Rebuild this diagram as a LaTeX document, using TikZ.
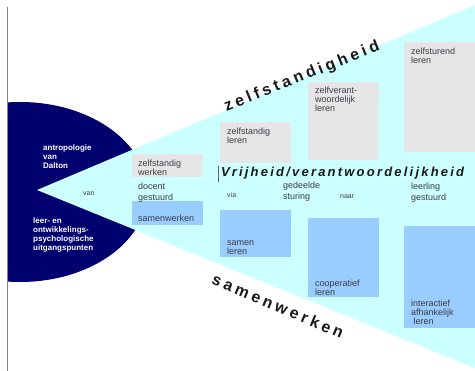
\documentclass[tikz,border=0pt]{standalone}
\usepackage{fontspec}
\setmainfont{Liberation Sans}
\newfontfamily\widefont[LetterSpace=22]{Liberation Sans}
\newfontfamily\vrfont[LetterSpace=17]{Liberation Sans}
\definecolor{navyc}{RGB}{0,0,110}
\definecolor{cyanc}{RGB}{204,255,255}
\definecolor{grayboxc}{RGB}{230,230,230}
\definecolor{blueboxc}{RGB}{153,204,255}
\definecolor{txtc}{RGB}{60,60,70}
\newcommand{\strutA}{\rule{0pt}{7pt}}
\newcommand{\strutB}{\rule{0pt}{6pt}}
\tikzset{
  bt/.style={anchor=north west, inner sep=0pt, align=left, text=txtc, font=\fontsize{9}{9.4}\selectfont},
  lt/.style={anchor=north west, inner sep=0pt, align=left, text=txtc, font=\fontsize{9}{11}\selectfont},
  st/.style={anchor=base west, inner sep=0pt, text=txtc, font=\fontsize{7}{8}\selectfont},
  pt/.style={anchor=north west, inner sep=0pt, align=left, text=white, font=\fontsize{8}{9}\selectfont\bfseries},
  gbox/.style={fill=grayboxc},
  bbox/.style={fill=blueboxc},
  bigword/.style={inner sep=0pt, text=black!90, font=\widefont\fontsize{16}{16}\selectfont\bfseries}
}
\begin{document}
\begin{tikzpicture}[x=1pt,y=-1pt]
\useasboundingbox (0,0) rectangle (475,371);
\fill[white] (0,0) rectangle (475,371);
% pac-man
\begin{scope}
  \clip (7,0) rectangle (475,371);
  \fill[navyc] (20,192) ellipse [x radius=127, y radius=90];
\end{scope}
% wedge
\fill[cyanc] (37,190) -- (475,5) -- (475,368) -- cycle;
% grey boxes
\fill[gbox] (132,154) rectangle (203,177);
\fill[gbox] (220,122) rectangle (291,163);
\fill[gbox] (308,82) rectangle (379,160);
\fill[gbox] (404,42) rectangle (475,152);
% blue boxes
\fill[bbox] (132,201) rectangle (203,225);
\fill[bbox] (220,210) rectangle (291,257);
\fill[bbox] (308,218) rectangle (379,297);
\fill[bbox] (404,226) rectangle (475,328);
% box texts
\node[bt] (g1) at (138,159) {\strutA zelfstandig\\werken};
\node[bt] (g2) at (227,127) {\strutA zelfstandig\\leren};
\node[bt] (g3) at (315,86) {\strutA zelfverant-\\woordelijk\\leren};
\node[bt] (g4) at (411,47) {\strutA zelfsturend\\leren};
\node[bt] (b1) at (138,214) {\strutA samenwerken};
\node[bt] (b2) at (227,238) {\strutA samen\\leren};
\node[bt] (b3) at (315,279) {\strutA cooperatief\\leren};
\node[bt] (b4) at (411,299) {\strutA interactief\\afhankelijk\\\ leren};
% steering labels
\node[lt] (l1) at (138,182) {\strutA docent\\gestuurd};
\node[lt] (l2) at (283,181) {\strutA gedeelde\\sturing};
\node[lt] (l3) at (411,182) {\strutA leerling\\gestuurd};
\node[st] (s1) at (83,196) {van};
\node[st] (s2) at (227,198) {via};
\node[st] (s3) at (340,199) {naar};
% pac texts
\node[pt] (p1) at (43,144) {\strutB antropologie\\van\\Dalton};
\node[pt] (p2) at (33,217) {\strutB leer- en\\ontwikkelings-\\psychologische\\uitgangspunten};
% central title
\node[anchor=base west, inner sep=0pt, text=black!90, font=\vrfont\fontsize{13}{13}\selectfont\bfseries\itshape] (vr) at (221,177) {Vrijheid/verantwoordelijkheid};
\draw[black!60, line width=0.6pt] (218,166) -- (218,182);
% rotated words
\node[bigword, rotate=22] (zh) at (302,77) {zelfstandigheid};
\node[bigword, rotate=-23] (sw) at (278,306) {samenwerken};
% left line
\draw[gray, line width=1pt] (7,7) -- (7,371);
\end{tikzpicture}
\end{document}
